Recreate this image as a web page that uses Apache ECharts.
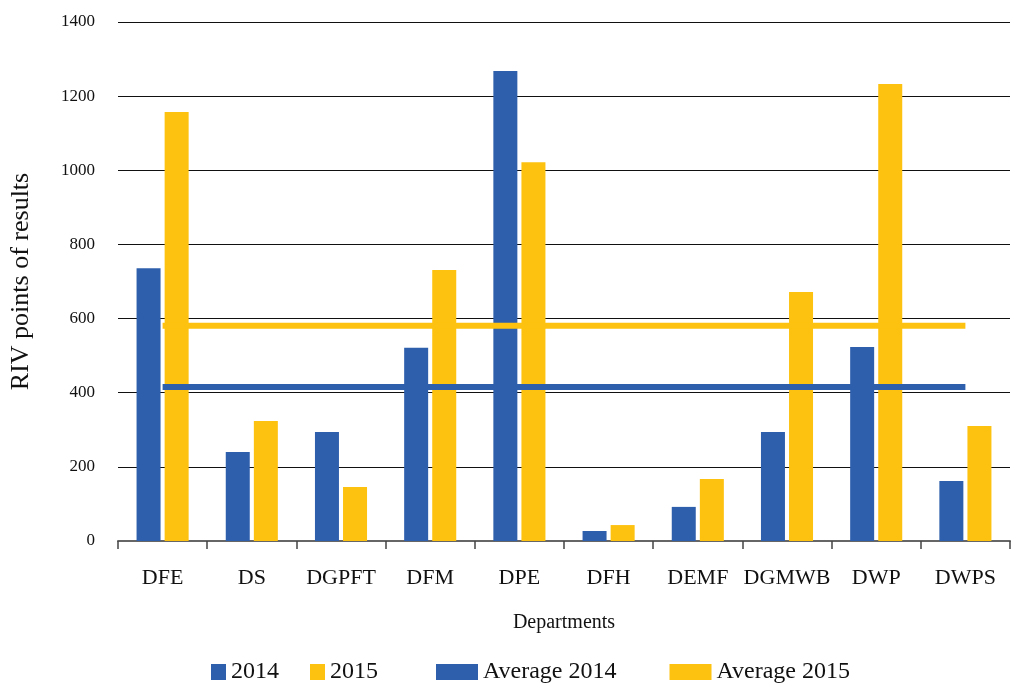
<!DOCTYPE html>
<html>
<head>
<meta charset="utf-8">
<script src="https://cdn.jsdelivr.net/npm/echarts@6/dist/echarts.min.js"></script>
<style>
  html, body { margin: 0; padding: 0; background: #fff; }
  #chart { width: 1015px; height: 685px; }
</style>
</head>
<body>
<div id="chart"></div>
<script>
// 数据
var departments = ["DFE", "DS", "DGPFT", "DFM", "DPE", "DFH", "DEMF", "DGMWB", "DWP", "DWPS"];
var values2014 = [736, 240, 294, 521, 1268, 27, 92, 294, 523, 162];
var values2015 = [1157, 324, 146, 731, 1022, 43, 167, 672, 1233, 310];
var average2014 = 415.7;
var average2015 = 580.5;
var yTicks = [0, 200, 400, 600, 800, 1000, 1200, 1400];

var blue = "#2E5FAC";
var yellow = "#FDC20F";
var font = "Liberation Serif";

var myChart = echarts.init(document.getElementById("chart"));

function flat(v) {
  return departments.map(function () { return v; });
}

var option = {
  animation: false,
  textStyle: { fontFamily: font },
  grid: { left: 115, right: 5, top: 22, bottom: 144 },
  legend: [
    {
      left: 206,
      bottom: -4,
      itemWidth: 15,
      itemHeight: 16,
      itemGap: 31,
      icon: "rect",
      textStyle: { fontFamily: font, fontSize: 24, color: "#111" },
      data: ["2014", "2015"]
    },
    {
      left: 431,
      bottom: -4,
      itemWidth: 42,
      itemHeight: 16,
      itemGap: 53,
      icon: "rect",
      textStyle: { fontFamily: font, fontSize: 24, color: "#111" },
      data: ["Average 2014", "Average 2015"]
    }
  ],
  xAxis: {
    type: "category",
    data: departments,
    name: "Departments",
    nameLocation: "middle",
    nameGap: 72,
    nameTextStyle: { fontFamily: font, fontSize: 20, color: "#111" },
    axisLine: { lineStyle: { color: "#666", width: 2 } },
    axisTick: { show: true, interval: 0, length: 8, lineStyle: { color: "#444", width: 1.5 } },
    axisLabel: { interval: 0, margin: 26, fontFamily: font, fontSize: 22, color: "#111" }
  },
  yAxis: {
    type: "value",
    min: yTicks[0],
    max: yTicks[yTicks.length - 1],
    interval: 200,
    name: "RIV points of results",
    nameLocation: "middle",
    nameGap: 84,
    nameTextStyle: { fontFamily: font, fontSize: 26, color: "#111" },
    axisLine: { show: false },
    axisTick: { show: false },
    axisLabel: {
      margin: 23,
      fontFamily: font,
      fontSize: 17,
      color: "#111",
      formatter: function (v) { return String(v); }
    },
    splitLine: { lineStyle: { color: "#111", width: 1.2 } }
  },
  series: [
    {
      name: "2014",
      type: "bar",
      data: values2014,
      barWidth: 24,
      barGap: "17%",
      itemStyle: { color: blue }
    },
    {
      name: "2015",
      type: "bar",
      data: values2015,
      barWidth: 24,
      barGap: "17%",
      itemStyle: { color: yellow }
    },
    {
      name: "Average 2014",
      type: "line",
      data: flat(average2014),
      symbol: "none",
      itemStyle: { color: blue },
      lineStyle: { color: blue, width: 6 }
    },
    {
      name: "Average 2015",
      type: "line",
      data: flat(average2015),
      symbol: "none",
      itemStyle: { color: yellow },
      lineStyle: { color: yellow, width: 6 }
    }
  ]
};

myChart.setOption(option);
</script>
</body>
</html>
